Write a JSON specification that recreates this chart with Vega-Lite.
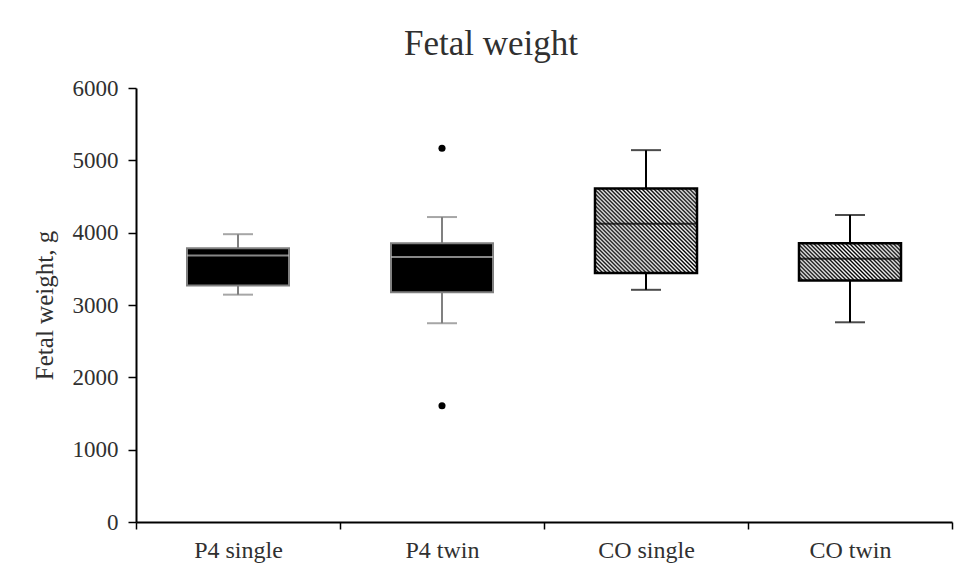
{
  "$schema": "https://vega.github.io/schema/vega-lite/v6.json",
  "width": 816,
  "height": 434,
  "autosize": {"type": "none"},
  "padding": {"left": 136, "top": 88, "right": 8, "bottom": 57},
  "background": "white",
  "config": {"view": {"stroke": null}},
  "title": {"text": "Fetal weight", "font": "Liberation Serif", "fontSize": 35, "fontWeight": "normal", "color": "#303030", "anchor": "middle", "dx": -53, "offset": 15},
  "datasets": {
    "stats": [
      {"group": "P4 single", "drug": "P4", "lower": 3143, "q1": 3270, "median": 3686, "q3": 3785, "upper": 3979},
      {"group": "P4 twin", "drug": "P4", "lower": 2748, "q1": 3177, "median": 3662, "q3": 3855, "upper": 4216},
      {"group": "CO single", "drug": "CO", "lower": 3210, "q1": 3441, "median": 4125, "q3": 4610, "upper": 5141},
      {"group": "CO twin", "drug": "CO", "lower": 2761, "q1": 3339, "median": 3640, "q3": 3855, "upper": 4244}
    ],
    "outliers": [
      {"group": "P4 twin", "drug": "P4", "value": 5167},
      {"group": "P4 twin", "drug": "P4", "value": 1607}
    ]
  },
  "encoding": {
    "x": {
      "field": "group", "type": "nominal",
      "sort": ["P4 single", "P4 twin", "CO single", "CO twin"],
      "scale": {"paddingInner": 0, "paddingOuter": 0},
      "axis": {"title": null, "labelAngle": 0, "tickBand": "extent", "domainColor": "#000", "domainWidth": 2, "tickColor": "#000", "tickWidth": 1.5, "tickSize": 7, "labelFont": "Liberation Serif", "labelFontSize": 24, "labelColor": "#303030", "labelPadding": 9}
    }
  },
  "layer": [
    {
      "data": {"name": "stats"},
      "mark": {"type": "rule", "strokeWidth": 2},
      "encoding": {
        "y": {"field": "lower", "type": "quantitative", "scale": {"domain": [0, 6000], "nice": false},
          "axis": {"values": [0, 1000, 2000, 3000, 4000, 5000, 6000], "format": "d", "title": "Fetal weight, g", "titleFont": "Liberation Serif", "titleFontWeight": "normal", "titleFontSize": 25, "titleColor": "#303030", "titlePadding": 15, "grid": false, "domainColor": "#000", "domainWidth": 2, "tickColor": "#000", "tickWidth": 1.5, "tickSize": 8, "labelPadding": 10, "labelFont": "Liberation Serif", "labelFontSize": 23, "labelColor": "#303030"}},
        "y2": {"field": "upper"},
        "color": {"condition": {"test": "datum.drug === 'P4'", "value": "#808080"}, "value": "#000"}
      }
    },
    {
      "data": {"name": "stats"},
      "transform": [{"fold": ["lower", "upper"], "as": ["stat", "value"]}],
      "mark": {"type": "tick", "size": 30, "thickness": 2},
      "encoding": {
        "y": {"field": "value", "type": "quantitative"},
        "color": {"condition": {"test": "datum.drug === 'P4'", "value": "#808080"}, "value": "#000"}
      }
    },
    {
      "data": {"name": "stats"},
      "transform": [{"filter": "datum.drug === 'P4'"}],
      "mark": {"type": "bar", "width": {"band": 0.5}, "fill": "#000", "stroke": "#808080", "strokeWidth": 2},
      "encoding": {
        "y": {"field": "q1", "type": "quantitative"},
        "y2": {"field": "q3"}
      }
    },
    {
      "data": {"name": "stats"},
      "transform": [{"filter": "datum.group === 'CO single'"}],
      "mark": {"type": "bar", "width": {"band": 0.5}, "stroke": "#000", "strokeWidth": 2.5,
        "fill": {"gradient": "linear", "x1": 0, "y1": 1, "x2": 1.085, "y2": 0.103, "stops": [
          {"offset": 0, "color": "#000"}, {"offset": 0.0106, "color": "#fff"}, {"offset": 0.0213, "color": "#000"}, {"offset": 0.0319, "color": "#fff"}, {"offset": 0.0426, "color": "#000"}, {"offset": 0.0532, "color": "#fff"}, {"offset": 0.0638, "color": "#000"}, {"offset": 0.0745, "color": "#fff"}, {"offset": 0.0851, "color": "#000"}, {"offset": 0.0957, "color": "#fff"},
          {"offset": 0.1064, "color": "#000"}, {"offset": 0.1170, "color": "#fff"}, {"offset": 0.1277, "color": "#000"}, {"offset": 0.1383, "color": "#fff"}, {"offset": 0.1489, "color": "#000"}, {"offset": 0.1596, "color": "#fff"}, {"offset": 0.1702, "color": "#000"}, {"offset": 0.1809, "color": "#fff"}, {"offset": 0.1915, "color": "#000"}, {"offset": 0.2021, "color": "#fff"},
          {"offset": 0.2128, "color": "#000"}, {"offset": 0.2234, "color": "#fff"}, {"offset": 0.2340, "color": "#000"}, {"offset": 0.2447, "color": "#fff"}, {"offset": 0.2553, "color": "#000"}, {"offset": 0.2660, "color": "#fff"}, {"offset": 0.2766, "color": "#000"}, {"offset": 0.2872, "color": "#fff"}, {"offset": 0.2979, "color": "#000"}, {"offset": 0.3085, "color": "#fff"},
          {"offset": 0.3191, "color": "#000"}, {"offset": 0.3298, "color": "#fff"}, {"offset": 0.3404, "color": "#000"}, {"offset": 0.3511, "color": "#fff"}, {"offset": 0.3617, "color": "#000"}, {"offset": 0.3723, "color": "#fff"}, {"offset": 0.3830, "color": "#000"}, {"offset": 0.3936, "color": "#fff"}, {"offset": 0.4043, "color": "#000"}, {"offset": 0.4149, "color": "#fff"},
          {"offset": 0.4255, "color": "#000"}, {"offset": 0.4362, "color": "#fff"}, {"offset": 0.4468, "color": "#000"}, {"offset": 0.4574, "color": "#fff"}, {"offset": 0.4681, "color": "#000"}, {"offset": 0.4787, "color": "#fff"}, {"offset": 0.4894, "color": "#000"}, {"offset": 0.5, "color": "#fff"}, {"offset": 0.5106, "color": "#000"}, {"offset": 0.5213, "color": "#fff"},
          {"offset": 0.5319, "color": "#000"}, {"offset": 0.5426, "color": "#fff"}, {"offset": 0.5532, "color": "#000"}, {"offset": 0.5638, "color": "#fff"}, {"offset": 0.5745, "color": "#000"}, {"offset": 0.5851, "color": "#fff"}, {"offset": 0.5957, "color": "#000"}, {"offset": 0.6064, "color": "#fff"}, {"offset": 0.6170, "color": "#000"}, {"offset": 0.6277, "color": "#fff"},
          {"offset": 0.6383, "color": "#000"}, {"offset": 0.6489, "color": "#fff"}, {"offset": 0.6596, "color": "#000"}, {"offset": 0.6702, "color": "#fff"}, {"offset": 0.6809, "color": "#000"}, {"offset": 0.6915, "color": "#fff"}, {"offset": 0.7021, "color": "#000"}, {"offset": 0.7128, "color": "#fff"}, {"offset": 0.7234, "color": "#000"}, {"offset": 0.7340, "color": "#fff"},
          {"offset": 0.7447, "color": "#000"}, {"offset": 0.7553, "color": "#fff"}, {"offset": 0.7660, "color": "#000"}, {"offset": 0.7766, "color": "#fff"}, {"offset": 0.7872, "color": "#000"}, {"offset": 0.7979, "color": "#fff"}, {"offset": 0.8085, "color": "#000"}, {"offset": 0.8191, "color": "#fff"}, {"offset": 0.8298, "color": "#000"}, {"offset": 0.8404, "color": "#fff"},
          {"offset": 0.8511, "color": "#000"}, {"offset": 0.8617, "color": "#fff"}, {"offset": 0.8723, "color": "#000"}, {"offset": 0.8830, "color": "#fff"}, {"offset": 0.8936, "color": "#000"}, {"offset": 0.9043, "color": "#fff"}, {"offset": 0.9149, "color": "#000"}, {"offset": 0.9255, "color": "#fff"}, {"offset": 0.9362, "color": "#000"}, {"offset": 0.9468, "color": "#fff"},
          {"offset": 0.9574, "color": "#000"}, {"offset": 0.9681, "color": "#fff"}, {"offset": 0.9787, "color": "#000"}, {"offset": 0.9894, "color": "#fff"}, {"offset": 1, "color": "#000"}
        ]}},
      "encoding": {
        "y": {"field": "q1", "type": "quantitative"},
        "y2": {"field": "q3"}
      }
    },
    {
      "data": {"name": "stats"},
      "transform": [{"filter": "datum.group === 'CO twin'"}],
      "mark": {"type": "bar", "width": {"band": 0.5}, "stroke": "#000", "strokeWidth": 2.5,
        "fill": {"gradient": "linear", "x1": 0, "y1": 1, "x2": 1.614, "y2": 0.411, "stops": [
          {"offset": 0, "color": "#000"}, {"offset": 0.0106, "color": "#fff"}, {"offset": 0.0213, "color": "#000"}, {"offset": 0.0319, "color": "#fff"}, {"offset": 0.0426, "color": "#000"}, {"offset": 0.0532, "color": "#fff"}, {"offset": 0.0638, "color": "#000"}, {"offset": 0.0745, "color": "#fff"}, {"offset": 0.0851, "color": "#000"}, {"offset": 0.0957, "color": "#fff"},
          {"offset": 0.1064, "color": "#000"}, {"offset": 0.1170, "color": "#fff"}, {"offset": 0.1277, "color": "#000"}, {"offset": 0.1383, "color": "#fff"}, {"offset": 0.1489, "color": "#000"}, {"offset": 0.1596, "color": "#fff"}, {"offset": 0.1702, "color": "#000"}, {"offset": 0.1809, "color": "#fff"}, {"offset": 0.1915, "color": "#000"}, {"offset": 0.2021, "color": "#fff"},
          {"offset": 0.2128, "color": "#000"}, {"offset": 0.2234, "color": "#fff"}, {"offset": 0.2340, "color": "#000"}, {"offset": 0.2447, "color": "#fff"}, {"offset": 0.2553, "color": "#000"}, {"offset": 0.2660, "color": "#fff"}, {"offset": 0.2766, "color": "#000"}, {"offset": 0.2872, "color": "#fff"}, {"offset": 0.2979, "color": "#000"}, {"offset": 0.3085, "color": "#fff"},
          {"offset": 0.3191, "color": "#000"}, {"offset": 0.3298, "color": "#fff"}, {"offset": 0.3404, "color": "#000"}, {"offset": 0.3511, "color": "#fff"}, {"offset": 0.3617, "color": "#000"}, {"offset": 0.3723, "color": "#fff"}, {"offset": 0.3830, "color": "#000"}, {"offset": 0.3936, "color": "#fff"}, {"offset": 0.4043, "color": "#000"}, {"offset": 0.4149, "color": "#fff"},
          {"offset": 0.4255, "color": "#000"}, {"offset": 0.4362, "color": "#fff"}, {"offset": 0.4468, "color": "#000"}, {"offset": 0.4574, "color": "#fff"}, {"offset": 0.4681, "color": "#000"}, {"offset": 0.4787, "color": "#fff"}, {"offset": 0.4894, "color": "#000"}, {"offset": 0.5, "color": "#fff"}, {"offset": 0.5106, "color": "#000"}, {"offset": 0.5213, "color": "#fff"},
          {"offset": 0.5319, "color": "#000"}, {"offset": 0.5426, "color": "#fff"}, {"offset": 0.5532, "color": "#000"}, {"offset": 0.5638, "color": "#fff"}, {"offset": 0.5745, "color": "#000"}, {"offset": 0.5851, "color": "#fff"}, {"offset": 0.5957, "color": "#000"}, {"offset": 0.6064, "color": "#fff"}, {"offset": 0.6170, "color": "#000"}, {"offset": 0.6277, "color": "#fff"},
          {"offset": 0.6383, "color": "#000"}, {"offset": 0.6489, "color": "#fff"}, {"offset": 0.6596, "color": "#000"}, {"offset": 0.6702, "color": "#fff"}, {"offset": 0.6809, "color": "#000"}, {"offset": 0.6915, "color": "#fff"}, {"offset": 0.7021, "color": "#000"}, {"offset": 0.7128, "color": "#fff"}, {"offset": 0.7234, "color": "#000"}, {"offset": 0.7340, "color": "#fff"},
          {"offset": 0.7447, "color": "#000"}, {"offset": 0.7553, "color": "#fff"}, {"offset": 0.7660, "color": "#000"}, {"offset": 0.7766, "color": "#fff"}, {"offset": 0.7872, "color": "#000"}, {"offset": 0.7979, "color": "#fff"}, {"offset": 0.8085, "color": "#000"}, {"offset": 0.8191, "color": "#fff"}, {"offset": 0.8298, "color": "#000"}, {"offset": 0.8404, "color": "#fff"},
          {"offset": 0.8511, "color": "#000"}, {"offset": 0.8617, "color": "#fff"}, {"offset": 0.8723, "color": "#000"}, {"offset": 0.8830, "color": "#fff"}, {"offset": 0.8936, "color": "#000"}, {"offset": 0.9043, "color": "#fff"}, {"offset": 0.9149, "color": "#000"}, {"offset": 0.9255, "color": "#fff"}, {"offset": 0.9362, "color": "#000"}, {"offset": 0.9468, "color": "#fff"},
          {"offset": 0.9574, "color": "#000"}, {"offset": 0.9681, "color": "#fff"}, {"offset": 0.9787, "color": "#000"}, {"offset": 0.9894, "color": "#fff"}, {"offset": 1, "color": "#000"}
        ]}},
      "encoding": {
        "y": {"field": "q1", "type": "quantitative"},
        "y2": {"field": "q3"}
      }
    },
    {
      "data": {"name": "stats"},
      "mark": {"type": "tick", "size": 102, "thickness": 2},
      "encoding": {
        "y": {"field": "median", "type": "quantitative"},
        "color": {"condition": {"test": "datum.drug === 'P4'", "value": "#c0c0c0"}, "value": "#000"}
      }
    },
    {
      "data": {"name": "outliers"},
      "mark": {"type": "point", "filled": true, "size": 50, "color": "#000", "opacity": 1},
      "encoding": {
        "y": {"field": "value", "type": "quantitative"}
      }
    }
  ]
}
